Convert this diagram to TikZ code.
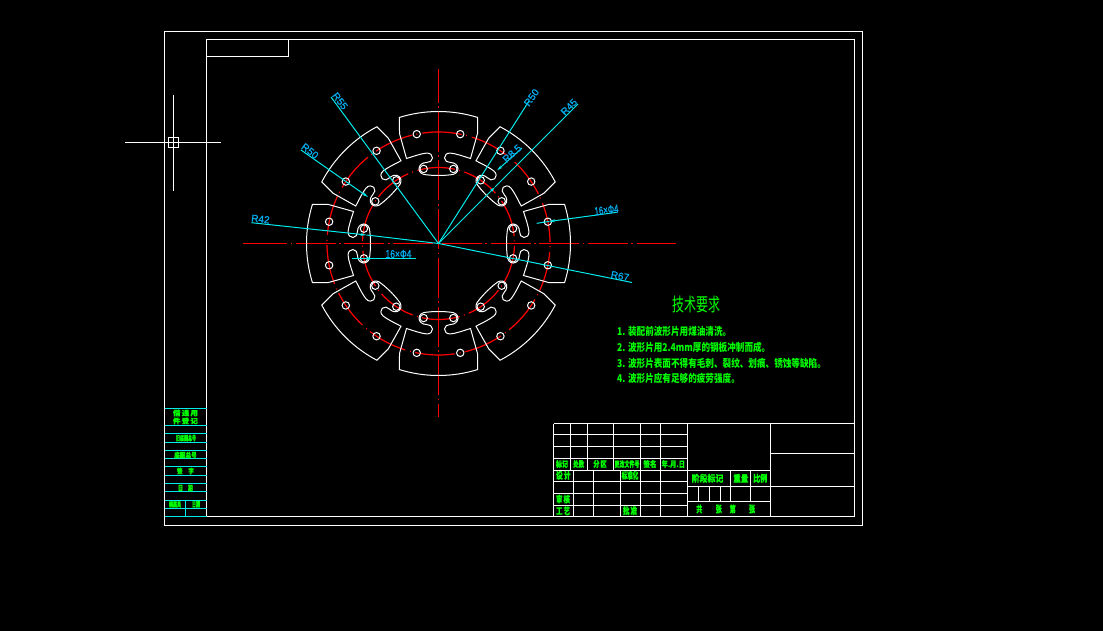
\documentclass[tikz,border=0pt]{standalone}
\usepackage{graphicx}
\usepackage{fontspec}
\newfontfamily\cjk[FakeBold=0.6]{Noto Sans CJK SC}
\newfontfamily\cjknote{Noto Sans CJK SC}
\newfontfamily\dimfont[FakeBold=1.0]{Liberation Sans}
\usetikzlibrary{arrows.meta}
\definecolor{dimcyan}{RGB}{0,235,235}
\definecolor{txtgreen}{RGB}{0,255,0}
\newcommand{\fitbox}[3]{\resizebox{#1pt}{#2pt}{#3}}
\tikzset{
	part/.style={draw=white, line width=1pt},
	hole/.style={draw=white, line width=1pt},
	centerl/.style={draw=red, line width=1pt},
	redarc/.style={draw=red, line width=1.2pt},
	dimline/.style={draw=dimcyan, line width=1pt},
	dimtext/.style={text=cyan, font=\dimfont\fontsize{10}{10}\selectfont, inner sep=0pt},
	frameline/.style={draw=white, line width=1pt},
	note/.style={text=txtgreen, font=\cjknote\bfseries\fontsize{8.6}{9}\selectfont, inner sep=0pt, anchor=west},
	cell/.style={text=txtgreen, font=\cjk\bfseries\fontsize{8}{8}\selectfont, inner sep=0pt}
}
\begin{document}
\begin{tikzpicture}[x=1pt,y=-1pt]
	\fill[black] (0,0) rectangle (1103,631);
	\useasboundingbox (0,0) rectangle (1103,631);
	% sheet frame
	\draw[frameline] (164.5,31.5) rectangle (862.5,525.5);
	\draw[frameline] (206.5,39.5) rectangle (854.5,516.5);
	\draw[frameline] (206.5,56.5) -- (288.5,56.5) -- (288.5,39.5);
	% cursor
	\draw[frameline] (125,142.5) -- (221,142.5);
	\draw[frameline] (173.5,95) -- (173.5,191);
	\draw[frameline] (168.5,137.5) rectangle (178.5,147.5);
	% left strip
	\foreach \y in {408.5,425.5,433.5,442.5,450.5,458.5,466.5,475.5,483.5,491.5,500.5,508.5,516.5}
		\draw[dimline] (164.5,\y) -- (206.5,\y);
	\draw[dimline] (185.5,500.5) -- (185.5,516.5);
	\node[cell] (jie1) at (185.5,413) {\fitbox{25}{6}{借\,通\,用}};
	\node[cell] (jie2) at (185.5,421) {\fitbox{25}{6}{件\,登\,记}};
	\node[cell] (jiudi) at (186,438) {\fitbox{20}{6}{旧底图总号}};
	\node[cell] (dihao) at (185.5,455) {\fitbox{22.5}{6}{底图总号}};
	\node[cell] (qianzi) at (185.5,471) {\fitbox{17}{6}{签\quad 字}};
	\node[cell] (riqi) at (185.5,488) {\fitbox{15}{6}{日\quad 期}};
	\node[cell] (dangan) at (175,504.3) {\fitbox{12}{6}{档案员}};
	\node[cell] (riqib) at (196,504.3) {\fitbox{8}{6}{日期}};
	% title block
	\foreach \y in {423.5,434.5,446.5,458.5,470.5}
		\draw[frameline] (553.5,\y) -- (687.5,\y);
	\foreach \y in {481.5,493.5,505.5}
		\draw[frameline] (553.5,\y) -- (687.5,\y);
	\draw[frameline] (553.5,423.5) -- (553.5,516.5);
	\foreach \x in {570.5,587.5,613.5,640.5,660.5}
		\draw[frameline] (\x,423.5) -- (\x,470.5);
	\foreach \x in {573.5,593.5,620.5,640.5,660.5}
		\draw[frameline] (\x,470.5) -- (\x,516.5);
	\draw[frameline] (687.5,423.5) -- (854.5,423.5);
	\draw[frameline] (687.5,423.5) -- (687.5,516.5);
	\draw[frameline] (770.5,423.5) -- (770.5,516.5);
	\draw[frameline] (770.5,453.5) -- (854.5,453.5);
	\draw[frameline] (687.5,470.5) -- (770.5,470.5);
	\draw[frameline] (687.5,486.5) -- (854.5,486.5);
	\draw[frameline] (687.5,501.5) -- (770.5,501.5);
	\draw[frameline] (730.5,470.5) -- (730.5,501.5);
	\draw[frameline] (750.5,470.5) -- (750.5,501.5);
	\foreach \x in {698.5,709.5,720.5}
		\draw[frameline] (\x,486.5) -- (\x,501.5);
	\node[cell] (biaoji) at (562,464) {\fitbox{12}{7}{标记}};
	\node[cell] (chushu) at (578.7,464) {\fitbox{11}{7}{处数}};
	\node[cell] (fenqu) at (600,464) {\fitbox{13.3}{7}{分\,区}};
	\node[cell] (genggai) at (627,464) {\fitbox{25}{7}{更改文件号}};
	\node[cell] (qianming) at (650,464) {\fitbox{13.3}{7}{签名}};
	\node[cell] (nianyue) at (673.3,464) {\fitbox{23.3}{7}{年.月.日}};
	\node[cell] (sheji) at (563.3,475.3) {\fitbox{14.7}{8}{设\,计}};
	\node[cell] (biaozhun) at (630,475.3) {\fitbox{16.7}{8}{标准化}};
	\node[cell] (shenhe) at (563,499) {\fitbox{14}{8}{审\,核}};
	\node[cell] (gongyi) at (563,510.7) {\fitbox{14}{8}{工\,艺}};
	\node[cell] (pizhun) at (630,510.7) {\fitbox{14}{8}{批\,准}};
	\node[cell] (jieduan) at (707.5,478.3) {\fitbox{31.7}{8}{阶段标记}};
	\node[cell] (zhongliang) at (740.8,478.3) {\fitbox{15}{8}{重量}};
	\node[cell] (bili) at (760.3,478.3) {\fitbox{14}{8}{比例}};
	\node[cell] (gong) at (699.3,509) {\fitbox{6}{8}{共}};
	\node[cell] (zhang) at (718.7,509) {\fitbox{6}{8}{张}};
	\node[cell] (di) at (732.7,509) {\fitbox{6}{8}{第}};
	\node[cell] (zhangb) at (752,509) {\fitbox{6}{8}{张}};
	% technical notes
	\node[text=txtgreen, font=\cjknote\fontsize{12}{12}\selectfont, inner sep=0pt] (jishu) at (696,305) {\fitbox{48}{15.5}{技术要求}};
	\node[note] (n1) at (617,331) {\scalebox{1}[1.25]{1. 装配前波形片用煤油清洗。}};
	\node[note] (n2) at (617,347) {\scalebox{1}[1.25]{2. 波形片用2.4mm厚的钢板冲制而成。}};
	\node[note] (n3) at (617,363) {\scalebox{1}[1.25]{3. 波形片表面不得有毛刺、裂纹、划痕、锈蚀等缺陷。}};
	\node[note] (n4) at (617,378.5) {\scalebox{1}[1.25]{4. 波形片应有足够的疲劳强度。}};
	% center lines
	\coordinate (cen) at (438.5,243.5);
	\draw[centerl] (243,243.5) -- (247,243.5);
	\draw[centerl, dash pattern=on 40pt off 3.5pt on 1.7pt off 3.5pt] (247,243.5) -- (675.5,243.5);
	\draw[centerl, dash pattern=on 40pt off 3.5pt on 1.7pt off 3.5pt, dash phase=6pt] (438.5,69) -- (438.5,417);
	\begin{scope}[shift={(cen)}, y=1pt]
		\draw[redarc, dash pattern=on 40pt off 5pt on 1pt off 4.04pt] (77.85:111.5) arc[start angle=77.85, end angle=437.85, radius=111.5];
		\draw[redarc, dash pattern=on 38pt off 4.5pt on 1pt off 4.25pt] (41.5:76) arc[start angle=41.5, end angle=401.5, radius=76];
		% eight segments, each drawn as two mirrored halves
		\foreach \k in {0,...,7} {
			\foreach \s in {1,-1} {
				\begin{scope}[rotate=45*\k, xscale=\s]
					\draw[part] (90:132) arc[start angle=90, end angle=107.2, radius=132] -- (-39,110) -- (-32,85)
						.. controls (-24,87.5) and (-17,90) .. (-12,90.4)
						.. controls (-8,90.8) and (-6,88) .. (-6,85.5)
						.. controls (-6,82.5) and (-9,81) .. (-12,81)
						.. controls (-16,81) and (-19.5,78.5) .. (-19.5,74.7)
						.. controls (-19.5,71) and (-16,68.7) .. (-12,68.7)
						.. controls (-7,68.1) and (-3,68) .. (0,68);
					\draw[hole] (101.25:111.5) circle (3.7);
					\draw[hole] (101.25:76) circle (3.7);
				\end{scope}
			}
		}
	\end{scope}
	% dimensions
	\coordinate (r55end) at (331,97);
	\coordinate (r50aend) at (301,150);
	\coordinate (r50atip) at (368,197);
	\coordinate (r50bend) at (529,101);
	\coordinate (r45end) at (578,104);
	\coordinate (r45tip) at (495,187);
	\coordinate (r85end) at (522,148);
	\coordinate (r85tip) at (497,170.5);
	\coordinate (r42end) at (251.5,222.7);
	\coordinate (r42tip) at (366.5,235);
	\coordinate (r67end) at (632,282.5);
	\coordinate (phiaend) at (616.7,212.3);
	\coordinate (phiatip) at (549,221.5);
	\coordinate (phiastart) at (536.7,223.3);
	\coordinate (phibleft) at (351.7,258.5);
	\coordinate (phibright) at (416,258.5);
	\coordinate (phibtip) at (364,258.5);
	\draw[dimline] (cen) -- (r55end);
	\draw[dimline, -{Stealth[length=6pt,width=3pt]}] (r50aend) -- (r50atip);
	\draw[dimline] (cen) -- (r50bend);
	\draw[dimline, -{Stealth[length=6pt,width=3pt]}] (cen) -- (r45tip);
	\draw[dimline] (r45tip) -- (r45end);
	\draw[dimline, -{Stealth[length=6pt,width=3pt]}] (r85end) -- (r85tip);
	\draw[dimline, -{Stealth[length=6pt,width=3pt]}] (r42end) -- (r42tip);
	\draw[dimline] (r42tip) -- (cen);
	\draw[dimline] (cen) -- (r67end);
	\draw[dimline, -{Stealth[length=6pt,width=3pt]}] (phiaend) -- (phiatip);
	\draw[dimline] (phiatip) -- (phiastart);
	\draw[dimline] (phibleft) -- (phibright);
	\draw[dimline, -{Stealth[length=6pt,width=3pt]}] (phibright) -- (phibtip);
	\node[dimtext, rotate=-53] (r55lab) at (340,101) {R55};
	\node[dimtext, rotate=-38] (r50alab) at (310,151) {R50};
	\node[dimtext, rotate=55] (r50blab) at (531.5,97.5) {R50};
	\node[dimtext, rotate=45] (r45lab) at (569,107) {R45};
	\node[dimtext, rotate=42] (r85lab) at (512,153.5) {R8.5};
	\node[dimtext, rotate=-6] (r42lab) at (260.5,219) {R42};
	\node[dimtext, rotate=-11] (r67lab) at (620,276) {R67};
	\node[dimtext, rotate=7] (phialab) at (606.5,210) {\fitbox{24}{8}{16×Φ4}};
	\node[dimtext] (phiblab) at (398.5,254) {\fitbox{26}{8}{16×Φ4}};
\end{tikzpicture}
\end{document}
